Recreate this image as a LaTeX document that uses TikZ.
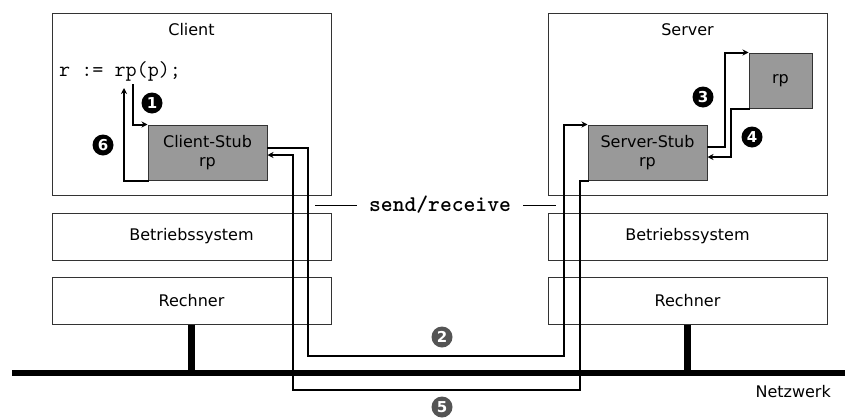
\documentclass[tikz,border=0pt]{standalone}
\usepackage{fontspec}
\setmainfont{DejaVu Sans}
\usetikzlibrary{arrows.meta}

\tikzset{
    layer/.style={draw=black!80, line width=1pt, minimum width=279pt, minimum height=47pt, inner sep=0pt},
    stub/.style={draw=black!80, line width=1pt, fill=black!40, minimum height=55pt, inner sep=0pt, align=center},
    conn/.style={line width=2pt, line cap=rect},
    tip/.style={-{Stealth[length=6pt, width=6pt]}},
    badge/.style={circle, fill=black, text=white, minimum size=21pt, inner sep=0pt, font=\fontsize{15}{15}\selectfont\bfseries},
    bus/.style={line width=6pt}
}

\begin{document}
\begin{tikzpicture}[x=1pt, y=-1pt, font=\fontsize{16}{19}\selectfont]
        \useasboundingbox (0,0) rectangle (845,418);

        \node[layer, minimum height=182pt] (client) at (191.5,104) {};
        \node (clienttitle) at (191.5,30) {Client};
        \node[layer, minimum height=182pt] (server) at (687.5,104) {};
        \node (servertitle) at (687.5,30) {Server};

        \node[layer] (cos) at (191.5,236.5) {Betriebssystem};
        \node[layer] (sos) at (687.5,236.5) {Betriebssystem};
        \node[layer] (crech) at (191.5,300.5) {Rechner};
        \node[layer] (srech) at (687.5,300.5) {Rechner};

        \node[stub, minimum width=119pt] (cstub) at (207.5,152.5) {Client-Stub\\rp};
        \node[stub, minimum width=119pt] (sstub) at (647.5,152.5) {Server-Stub\\rp};
        \node[stub, minimum width=63pt] (rp) at (780.5,80.5) {rp};

        \node[anchor=base west, inner sep=0pt, font=\fontsize{21.5}{21.5}\ttfamily] (code) at (59,76) {r := rp(p);};
        \coordinate (call) at (133,85);
        \coordinate (ret) at (124,88);

        \coordinate (netL) at (12,373);
        \coordinate (netR) at (845,373);
        \draw[bus] (netL) -- (netR);
        \draw[line width=7pt] (crech.south) -- (crech.south |- netL);
        \draw[line width=7pt] (srech.south) -- (srech.south |- netL);
        \node[anchor=west] (net) at (752,392) {Netzwerk};

        \node[font=\fontsize{22.5}{22.5}\ttfamily\bfseries] (sr) at (440,205) {send/receive};
        \draw[line width=1pt] ([xshift=-9pt]sr.west) -- ++(-42,0);
        \draw[line width=1pt] ([xshift=9pt]sr.east) -- ++(33,0);

        \draw[conn, tip] (call) |- (cstub.north west);
        \draw[conn, tip] (cstub.south west) -| (ret);
        \draw[conn, tip] ([yshift=4.5pt]cstub.east) -- ++(40,0) -- ++(0,208) -| ([xshift=-24pt]sstub.north west) -- (sstub.north west);
        \draw[conn, tip] ([yshift=5.5pt]sstub.east) -- ++(17,0) |- (rp.north west);
        \draw[conn, tip] (rp.south west) -- ++(-18,0) |- ([yshift=-4.5pt]sstub.east);
        \draw[conn, tip] (sstub.south west) -- ++(-8,0) -- ++(0,209) -| ([xshift=25pt,yshift=-2.5pt]cstub.east) -- ([yshift=-2.5pt]cstub.east);

        \node[badge] (b1) at (152,103) {1};
        \node[badge, fill=black!67] (b2) at (442,337) {2};
        \node[badge] (b3) at (703,97) {3};
        \node[badge] (b4) at (752,137) {4};
        \node[badge, fill=black!67] (b5) at (442,407) {5};
        \node[badge] (b6) at (103,145) {6};
    \end{tikzpicture}
\end{document}
